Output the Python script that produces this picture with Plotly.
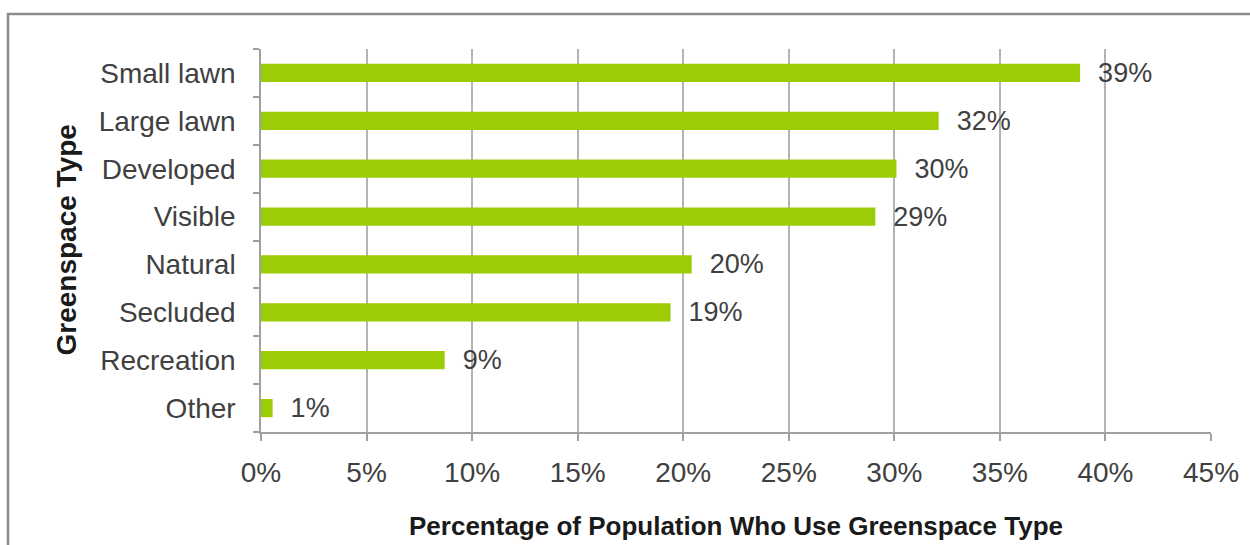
import plotly.graph_objects as go

# Share of the population using each greenspace type (%)
categories = ["Small lawn", "Large lawn", "Developed", "Visible",
              "Natural", "Secluded", "Recreation", "Other"]
usage_pct = [38.8, 32.1, 30.1, 29.1, 20.4, 19.4, 8.7, 0.55]
x_ticks = [0, 5, 10, 15, 20, 25, 30, 35, 40, 45]
x_tick_text = [f"{v}%" for v in x_ticks]

W, H = 1250, 545
L, R, T, B = 261, 39, 49, 113
FONT = "Liberation Sans, Arial, sans-serif"
TXT = "#404040"

fig = go.Figure(go.Bar(
    x=usage_pct,
    y=categories,
    orientation="h",
    width=0.38,
    marker=dict(color="#9ccc06", line=dict(width=0)),
    texttemplate="  %{x:.0f}%",
    textposition="outside",
    constraintext="none",
    textfont=dict(family=FONT, size=27, color=TXT),
    cliponaxis=False,
))

pw = W - L - R
ph = H - T - B
fig.update_layout(
    width=W, height=H,
    margin=dict(l=L, r=R, t=T, b=B, pad=0),
    paper_bgcolor="white", plot_bgcolor="white",
    showlegend=False,
    font=dict(family=FONT, color=TXT),
    xaxis=dict(
        range=[0, 45], tickvals=x_ticks, ticktext=x_tick_text,
        showgrid=True, gridcolor="#b4b4b4", gridwidth=1.5,
        showline=True, linecolor="#a0a0a0", linewidth=1.5,
        ticks="outside", ticklen=7, tickcolor="#a0a0a0", tickwidth=1.5,
        tickfont=dict(size=28, color=TXT), ticklabelstandoff=8,
        zeroline=False, fixedrange=True,
    ),
    yaxis=dict(
        categoryorder="array", categoryarray=categories[::-1],
        showline=True, linecolor="#a0a0a0", linewidth=1.5,
        ticks="outside", tickson="boundaries", ticklen=6,
        tickcolor="#a0a0a0", tickwidth=1.5,
        tickfont=dict(size=28, color=TXT), ticklabelstandoff=18,
        showgrid=False, fixedrange=True,
    ),
    annotations=[
        dict(text="<b>Percentage of Population Who Use Greenspace Type</b>",
             xref="paper", yref="paper", x=0.5, y=-(526 - (T + ph)) / ph,
             yanchor="middle", xanchor="center", showarrow=False,
             font=dict(size=26, color="#1a1a1a")),
        dict(text="<b>Greenspace Type</b>", textangle=-90,
             xref="paper", yref="paper", x=(66 - L) / pw, y=0.5,
             xanchor="center", yanchor="middle", showarrow=False,
             font=dict(size=28, color="#1a1a1a")),
    ],
    shapes=[
        dict(type="rect", xref="paper", yref="paper",
             x0=(8 - L) / pw, x1=(W + 20 - L) / pw,
             y0=-(H + 20 - T - ph) / ph, y1=1 + (T - 14) / ph,
             line=dict(color="#8c8c8c", width=2.5), layer="below"),
    ],
)

fig.write_html("out.html")
